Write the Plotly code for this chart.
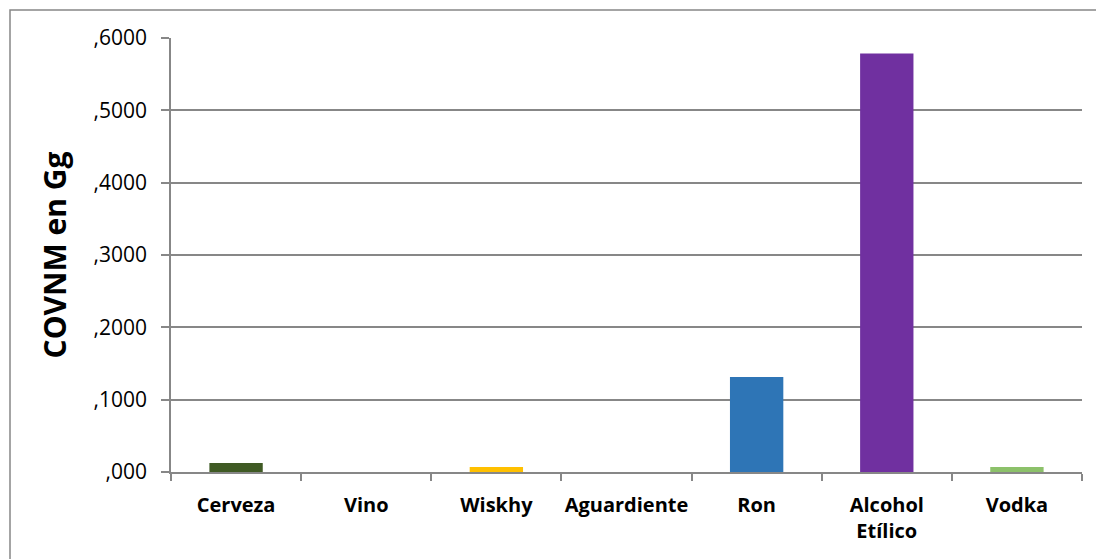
import plotly.graph_objects as go

# Emisiones de COVNM por tipo de bebida (Gg)
categorias = ["Cerveza", "Vino", "Wiskhy", "Aguardiente", "Ron", "Alcohol<br>Etílico", "Vodka"]
covnm_gg = [0.0124, 0.0, 0.0069, 0.0, 0.1315, 0.5785, 0.0069]
colores = ["#3F5A24", "#A5A5A5", "#FFC000", "#4472C4", "#2E75B6", "#7030A0", "#8CC16A"]

ticks_y = [0.0, 0.1, 0.2, 0.3, 0.4, 0.5, 0.6]
etiquetas_y = [",000", ",1000", ",2000", ",3000", ",4000", ",5000", ",6000"]

fig = go.Figure(
    go.Bar(
        x=categorias,
        y=covnm_gg,
        marker=dict(color=colores, line=dict(width=0)),
        width=0.41,
    )
)

eje_gris = "#878787"

fig.update_layout(
    width=1096,
    height=559,
    margin=dict(l=171, r=14, t=38, b=87),
    paper_bgcolor="white",
    plot_bgcolor="white",
    showlegend=False,
    font=dict(family="Open Sans", color="black"),
    xaxis=dict(
        showline=True,
        linecolor=eje_gris,
        linewidth=1.5,
        ticks="outside",
        tickson="boundaries",
        ticklen=7,
        tickcolor=eje_gris,
        tickwidth=1.5,
        tickangle=0,
        automargin=False,
        tickfont=dict(family="Open Sans", size=20, weight="bold"),
        ticklabelstandoff=14,
        showgrid=False,
    ),
    yaxis=dict(
        range=[0, 0.6],
        tickvals=ticks_y,
        ticktext=etiquetas_y,
        automargin=False,
        showline=True,
        linecolor=eje_gris,
        linewidth=1.5,
        ticks="outside",
        ticklen=8,
        tickcolor=eje_gris,
        tickwidth=1.5,
        tickfont=dict(family="Open Sans", size=21),
        ticklabelstandoff=10,
        showgrid=True,
        gridcolor=eje_gris,
        gridwidth=1.5,
        zeroline=False,
        title=dict(
            text="COVNM en Gg",
            font=dict(family="Open Sans", size=30, weight="bold"),
            standoff=18,
        ),
    ),
)

# Borde exterior del área del gráfico
fig.add_shape(
    type="rect",
    xref="paper",
    yref="paper",
    x0=-161 / 911,
    x1=1.05,
    y0=-0.3,
    y1=1 + 28 / 434,
    line=dict(color=eje_gris, width=1.5),
    fillcolor="rgba(0,0,0,0)",
    layer="below",
)

fig.write_html("out.html")
